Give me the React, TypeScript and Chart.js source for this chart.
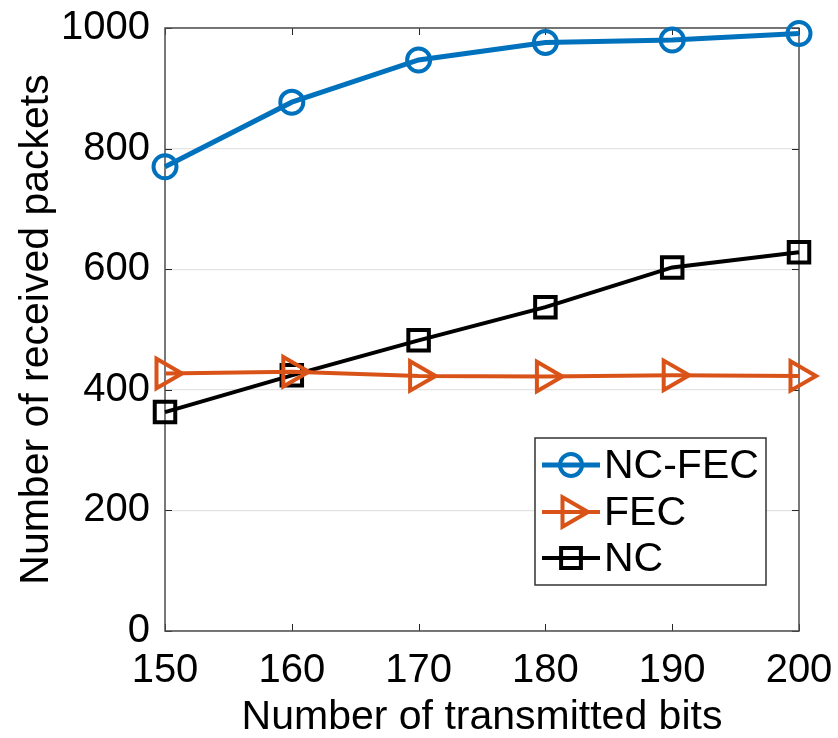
import React, { useEffect, useRef } from "react";
import { Chart, registerables } from "chart.js";

Chart.register(...registerables);

const xValues = [150, 160, 170, 180, 190, 200];
const ncFec = [770, 877, 947, 976, 980, 991];
const fec = [427, 430, 423, 422, 424, 423];
const nc = [363, 424, 482, 537, 603, 628];
const yTicks = [0, 200, 400, 600, 800, 1000];
const seriesNames = ["NC-FEC", "FEC", "NC"];
const seriesColors = ["#0072BD", "#D95319", "#000000"];

const FONT = "'Liberation Sans', Arial, sans-serif";

function drawMarker(ctx: CanvasRenderingContext2D, style: string, x: number, y: number, r: number) {
  ctx.beginPath();
  if (style === "circle") {
    ctx.arc(x, y, r, 0, Math.PI * 2);
  } else if (style === "triangle") {
    let rad = Math.PI / 2;
    ctx.moveTo(x + Math.sin(rad) * r, y - Math.cos(rad) * r);
    rad += (2 * Math.PI) / 3;
    ctx.lineTo(x + Math.sin(rad) * r, y - Math.cos(rad) * r);
    rad += (2 * Math.PI) / 3;
    ctx.lineTo(x + Math.sin(rad) * r, y - Math.cos(rad) * r);
    ctx.closePath();
  } else {
    const s = r / Math.SQRT2;
    ctx.rect(x - s, y - s, 2 * s, 2 * s);
  }
  ctx.stroke();
}

const frameAndLegend = {
  id: "frameAndLegend",
  beforeDatasetsDraw(chart: any) {
    const { ctx, chartArea } = chart;
    const { left, right, top, bottom } = chartArea;
    const xs = chart.scales.x;
    const ys = chart.scales.y;
    ctx.save();
    ctx.strokeStyle = "#262626";
    ctx.lineWidth = 1;
    const tl = 7;
    ctx.beginPath();
    xValues.forEach((v) => {
      const px = Math.round(xs.getPixelForValue(v)) + 0.5;
      ctx.moveTo(px, bottom);
      ctx.lineTo(px, bottom - tl);
      ctx.moveTo(px, top);
      ctx.lineTo(px, top + tl);
    });
    yTicks.forEach((v) => {
      const py = Math.round(ys.getPixelForValue(v)) + 0.5;
      ctx.moveTo(left, py);
      ctx.lineTo(left + tl, py);
      ctx.moveTo(right, py);
      ctx.lineTo(right - tl, py);
    });
    ctx.stroke();
    ctx.strokeStyle = "#4d4d4d";
    ctx.lineWidth = 1.5;
    ctx.strokeRect(left, top, right - left, bottom - top);
    ctx.restore();
  },
  afterDraw(chart: any) {
    const { ctx } = chart;
    ctx.save();
    const bx = 535, by = 438, bw = 231, bh = 147;
    ctx.fillStyle = "#ffffff";
    ctx.fillRect(bx, by, bw, bh);
    ctx.strokeStyle = "#333333";
    ctx.lineWidth = 1.5;
    ctx.strokeRect(bx, by, bw, bh);
    const rows = [465, 512, 558];
    const styles = ["circle", "triangle", "rect"];
    const radii = [11, 17, 14];
    const widths = [5, 4, 4];
    rows.forEach((ry, i) => {
      ctx.strokeStyle = seriesColors[i];
      ctx.lineWidth = widths[i];
      ctx.beginPath();
      ctx.moveTo(542, ry);
      ctx.lineTo(600, ry);
      ctx.stroke();
      ctx.lineWidth = 4;
      drawMarker(ctx, styles[i], 571, ry, radii[i]);
      ctx.fillStyle = "#000000";
      ctx.font = `41px ${FONT}`;
      ctx.textAlign = "left";
      ctx.textBaseline = "middle";
      ctx.fillText(seriesNames[i], 604, ry + 2);
    });
    ctx.restore();
  },
};

export default function App() {
  const ref = useRef<HTMLCanvasElement | null>(null);
  useEffect(() => {
    document.body.style.margin = "0";
    const canvas = ref.current!;
    const chart = new Chart(canvas, {
      type: "line",
      data: {
        datasets: [
          {
            label: seriesNames[0],
            data: xValues.map((x, i) => ({ x, y: ncFec[i] })),
            borderColor: seriesColors[0],
            backgroundColor: "rgba(0,0,0,0)",
            borderWidth: 5,
            pointStyle: "circle",
            pointRadius: 11.5,
            pointBorderWidth: 4,
            pointBackgroundColor: "rgba(0,0,0,0)",
            pointBorderColor: seriesColors[0],
            clip: false,
          },
          {
            label: seriesNames[1],
            data: xValues.map((x, i) => ({ x, y: fec[i] })),
            borderColor: seriesColors[1],
            backgroundColor: "rgba(0,0,0,0)",
            borderWidth: 4,
            pointStyle: "triangle",
            pointRotation: 90,
            pointRadius: 17,
            pointBorderWidth: 4,
            pointBackgroundColor: "rgba(0,0,0,0)",
            pointBorderColor: seriesColors[1],
            clip: false,
          },
          {
            label: seriesNames[2],
            data: xValues.map((x, i) => ({ x, y: nc[i] })),
            borderColor: seriesColors[2],
            backgroundColor: "rgba(0,0,0,0)",
            borderWidth: 4,
            pointStyle: "rect",
            pointRadius: 14.5,
            pointBorderWidth: 4,
            pointBackgroundColor: "rgba(0,0,0,0)",
            pointBorderColor: seriesColors[2],
            clip: false,
          },
        ],
      },
      options: {
        animation: false,
        responsive: false,
        maintainAspectRatio: false,
        layout: { padding: { left: 0, right: 39, top: 28, bottom: 0 } },
        plugins: { legend: { display: false }, tooltip: { enabled: false } },
        scales: {
          x: {
            type: "linear",
            min: 150,
            max: 200,
            afterBuildTicks: (s: any) => {
              s.ticks = xValues.map((v) => ({ value: v }));
            },
            afterFit: (s: any) => {
              s.height = 107;
              s.paddingLeft = 0;
              s.paddingRight = 0;
            },
            grid: { display: false, drawTicks: false },
            border: { display: false },
            ticks: {
              color: "#000000",
              font: { family: FONT, size: 40 },
              padding: 16,
              maxRotation: 0,
              autoSkip: false,
            },
            title: {
              display: true,
              text: "Number of transmitted bits",
              color: "#000000",
              font: { family: FONT, size: 41, lineHeight: 1.0 },
              padding: { top: 0, bottom: 0 },
            },
          },
          y: {
            type: "linear",
            min: 0,
            max: 1000,
            afterBuildTicks: (s: any) => {
              s.ticks = yTicks.map((v) => ({ value: v }));
            },
            afterFit: (s: any) => {
              s.width = 165;
              s.paddingTop = 0;
              s.paddingBottom = 0;
            },
            grid: { color: "#e3e3e3", lineWidth: 1.2, drawTicks: false },
            border: { display: false },
            ticks: {
              color: "#000000",
              font: { family: FONT, size: 40 },
              padding: 15,
              callback: (v: any) => String(v),
            },
            title: {
              display: true,
              text: "Number of received packets",
              color: "#000000",
              font: { family: FONT, size: 41, lineHeight: 1.0 },
              padding: { top: 16, bottom: 0 },
            },
          },
        },
      },
      plugins: [frameAndLegend],
    });
    return () => chart.destroy();
  }, []);
  return (
    <div style={{ width: 838, height: 738, background: "#fff" }}>
      <canvas ref={ref} width={838} height={738} style={{ display: "block" }} />
    </div>
  );
}
